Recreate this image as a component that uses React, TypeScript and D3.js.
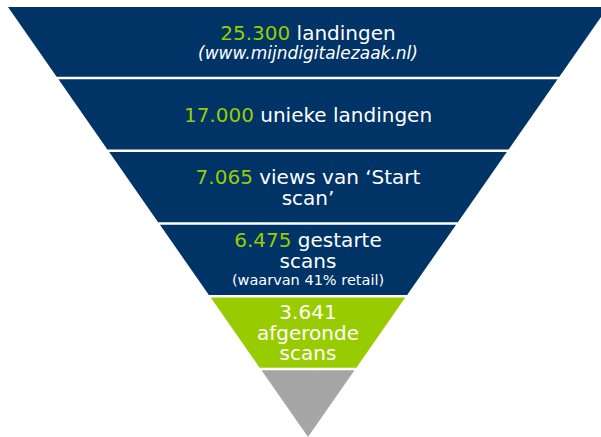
import React from "react";
import * as d3 from "d3";

const stageValues = ["25.300", "17.000", "7.065", "6.475", "3.641", ""];
const stageLines: string[][] = [
  ["{v} landingen"],
  ["{v} unieke landingen"],
  ["{v} views van ‘Start", "scan’"],
  ["{v} gestarte", "scans"],
  ["{v}", "afgeronde", "scans"],
  [],
];
const stageNotes = ["(www.mijndigitalezaak.nl)", "", "", "(waarvan 41% retail)", "", ""];
const noteItalic = [true, false, false, false, false, false];
const stageFills = ["#003366", "#003366", "#003366", "#003366", "#99cc00", "#a6a6a6"];
const valueColors = ["#99cc00", "#99cc00", "#99cc00", "#99cc00", "#ffffff", "#ffffff"];

const W = 601;
const H = 437;
const TOP = 7;
const APEX = 437;
const CX = 308;
const GAP = 2.6;
const FONT = "'DejaVu Sans', Verdana, sans-serif";
const MAIN = 20;

export default function App() {
  const boundary = d3.scaleLinear().domain([1, 5]).range([78, 369]);
  const halfW = d3.scaleLinear().domain([TOP, APEX]).range([300, 0]);
  const n = stageValues.length;
  const edges = d3.range(n + 1).map((i) => (i === 0 ? TOP : i === n ? APEX : boundary(i)));

  return (
    <svg
      width={W}
      height={H}
      style={{ position: "absolute", left: 0, top: 0, background: "#fff" }}
    >
      {stageValues.map((v, i) => {
        const y0 = edges[i] + (i === 0 ? 0 : GAP / 2);
        const y1 = edges[i + 1] - (i === n - 1 ? 0 : GAP / 2);
        const pts: [number, number][] = [
          [CX - halfW(y0), y0],
          [CX + halfW(y0), y0],
          [CX + halfW(y1), y1],
          [CX - halfW(y1), y1],
        ];
        const path = d3.line()(pts) + "Z";
        const mid = (edges[i] + edges[i + 1]) / 2;
        type L = { text: string; size: number; italic: boolean };
        const lines: L[] = stageLines[i].map((t) => ({ text: t, size: MAIN, italic: false }));
        if (stageNotes[i]) {
          lines.push({
            text: stageNotes[i],
            size: noteItalic[i] ? 17 : 14.5,
            italic: noteItalic[i],
          });
        }
        const baselines: number[] = [];
        lines.forEach((l, k) => {
          if (k === 0) baselines.push(0);
          else baselines.push(baselines[k - 1] + ((lines[k - 1].size + l.size) / 2) * 1.03);
        });
        let shift = 0;
        if (lines.length) {
          const c0 = baselines[0] - 0.36 * lines[0].size;
          const last = lines.length - 1;
          const c1 = baselines[last] - 0.36 * lines[last].size;
          shift = mid - (c0 + c1) / 2;
        }
        return (
          <g key={i}>
            <path d={path} fill={stageFills[i]} />
            {lines.map((l, k) => {
              const y = baselines[k] + shift;
              if (l.text.includes("{v}")) {
                const rest = l.text.replace("{v}", "");
                return (
                  <text
                    key={k}
                    x={CX}
                    y={y}
                    textAnchor="middle"
                    fontFamily={FONT}
                    fontSize={l.size}
                    fill="#ffffff"
                  >
                    <tspan fill={valueColors[i]}>{v}</tspan>
                    {rest ? <tspan>{rest}</tspan> : null}
                  </text>
                );
              }
              return (
                <text
                  key={k}
                  x={CX}
                  y={y}
                  textAnchor="middle"
                  fontFamily={FONT}
                  fontSize={l.size}
                  fontStyle={l.italic ? "italic" : "normal"}
                  fill="#ffffff"
                >
                  {l.text}
                </text>
              );
            })}
          </g>
        );
      })}
    </svg>
  );
}
